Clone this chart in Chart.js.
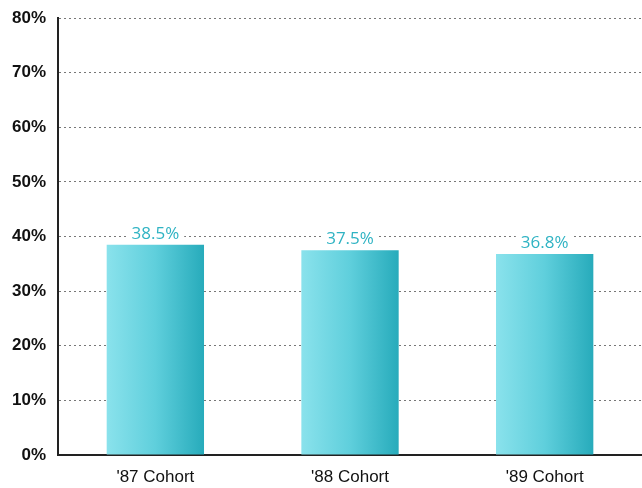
<!DOCTYPE html>
<html>
<head>
<meta charset="utf-8">
<script src="https://cdn.jsdelivr.net/npm/chart.js@4/dist/chart.umd.min.js"></script>
<style>
  html, body { margin: 0; padding: 0; background: #fff; }
  #wrap { width: 642px; height: 488px; position: relative; }
</style>
</head>
<body>
<div id="wrap"><canvas id="c"></canvas></div>
<script>
// Cohort categories and their rates (percent)
const cohorts = ["'87 Cohort", "'88 Cohort", "'89 Cohort"];
const rates = [38.5, 37.5, 36.8];
const yTicks = [0, 10, 20, 30, 40, 50, 60, 70, 80];

const TEAL_TEXT = '#2fb3c3';
const BAR_FRACTION = 0.5;

// horizontal light-to-dark gradient across each bar
function barFill(ctx) {
  const chart = ctx.chart;
  const xs = chart.scales && chart.scales.x;
  if (!chart.chartArea || !xs || ctx.type !== 'data') return '#5ccfdc';
  const cx = xs.getPixelForValue(ctx.dataIndex);
  const half = (xs.width / cohorts.length) * BAR_FRACTION / 2;
  const g = chart.ctx.createLinearGradient(cx - half, 0, cx + half, 0);
  g.addColorStop(0, '#8ae2ec');
  g.addColorStop(0.5, '#5fcfdc');
  g.addColorStop(1, '#27abbb');
  return g;
}

// value labels above each bar on a white patch that breaks the grid line
const valueLabels = {
  id: 'valueLabels',
  afterDatasetsDraw(chart) {
    const c = chart.ctx;
    const meta = chart.getDatasetMeta(0);
    c.save();
    c.font = '17px "Open Sans", "Liberation Sans", sans-serif';
    c.textAlign = 'center';
    c.textBaseline = 'alphabetic';
    meta.data.forEach((bar, i) => {
      const txt = rates[i].toFixed(1) + '%';
      const w = c.measureText(txt).width;
      const y = bar.y - 6;
      c.fillStyle = '#fff';
      c.fillRect(bar.x - w / 2 - 5, y - 15, w + 10, 17);
      c.fillStyle = TEAL_TEXT;
      c.fillText(txt, bar.x, y);
    });
    c.restore();
  }
};

new Chart(document.getElementById('c'), {
  type: 'bar',
  data: {
    labels: cohorts,
    datasets: [{
      data: rates,
      backgroundColor: barFill,
      borderWidth: 0,
      barPercentage: BAR_FRACTION,
      categoryPercentage: 1.0
    }]
  },
  plugins: [valueLabels],
  options: {
    responsive: true,
    maintainAspectRatio: false,
    animation: false,
    layout: { padding: { top: 18, right: 0, left: 0, bottom: 0 } },
    plugins: { legend: { display: false }, tooltip: { enabled: false } },
    scales: {
      x: {
        afterFit(axis) { axis.height = 33; },
        grid: { display: false, drawTicks: false },
        border: { display: true, color: '#222', width: 2 },
        ticks: {
          color: '#111',
          padding: 12,
          font: { family: '"Liberation Sans", sans-serif', size: 17 }
        }
      },
      y: {
        min: 0,
        max: 80,
        afterBuildTicks(axis) { axis.ticks = yTicks.map(v => ({ value: v })); },
        afterFit(axis) { axis.paddingTop = 0; axis.paddingBottom = 0; },
        grid: {
          color: '#777',
          lineWidth: 1,
          drawTicks: false
        },
        border: { display: true, color: '#222', width: 2, dash: [2, 3] },
        ticks: {
          color: '#111',
          padding: 12,
          font: { family: '"Liberation Sans", sans-serif', size: 17, weight: 'bold' },
          callback: v => v + '%'
        }
      }
    }
  }
});
</script>
</body>
</html>
